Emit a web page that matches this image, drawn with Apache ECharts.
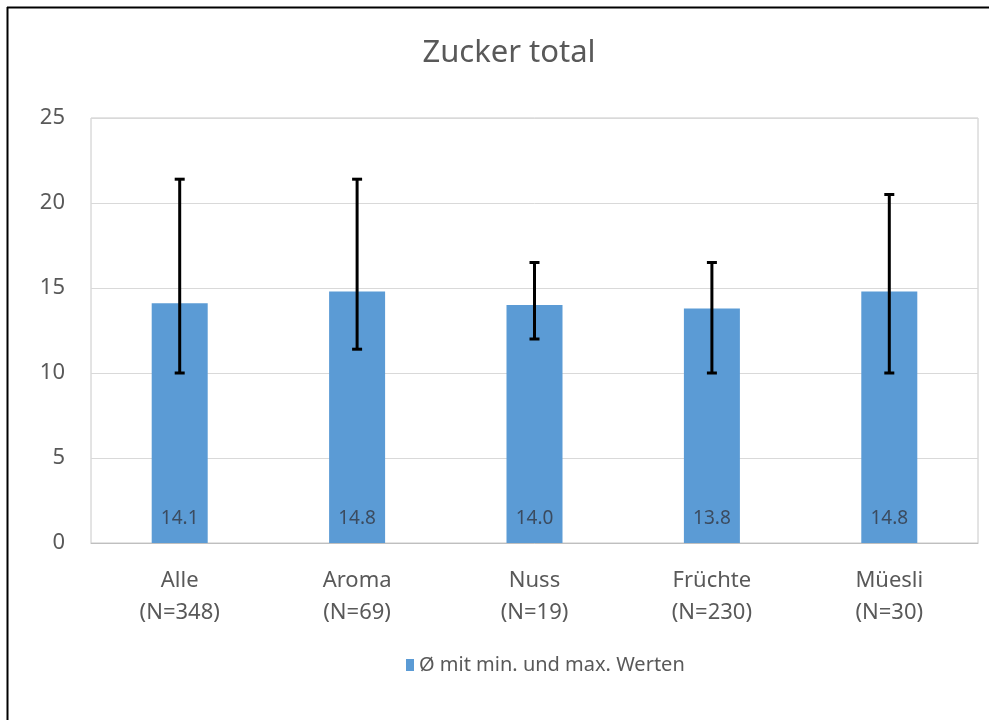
<!DOCTYPE html>
<html>
<head>
<meta charset="utf-8">
<script src="https://cdn.jsdelivr.net/npm/echarts@6/dist/echarts.min.js"></script>
<style>
html,body{margin:0;padding:0;background:#fff;}
#chart{width:989px;height:720px;}
</style>
</head>
<body>
<div id="chart"></div>
<script>
const categories = ['Alle\n(N=348)', 'Aroma\n(N=69)', 'Nuss\n(N=19)', 'Früchte\n(N=230)', 'Müesli\n(N=30)'];
const meanValues = [14.1, 14.8, 14.0, 13.8, 14.8];
const minValues = [10.0, 11.4, 12.0, 10.0, 10.0];
const maxValues = [21.4, 21.4, 16.5, 16.5, 20.5];
const yTicks = [0, 5, 10, 15, 20, 25];
const titleText = 'Zucker total';
const legendName = 'Ø mit min. und max. Werten';

const FONT = '"Noto Sans", sans-serif';
const chart = echarts.init(document.getElementById('chart'));

const errData = categories.map((c, i) => [i, minValues[i], maxValues[i]]);

chart.setOption({
  animation: false,
  backgroundColor: '#fff',
  title: {
    text: titleText,
    left: 504, top: 33, textAlign: 'center',
    textStyle: { fontFamily: FONT, fontSize: 31, fontWeight: 'normal', color: '#595959' }
  },
  legend: {
    data: [legendName],
    left: 401, top: 650,
    itemWidth: 8, itemHeight: 12, itemGap: 8,
    icon: 'rect',
    textStyle: { fontFamily: FONT, fontSize: 20, color: '#595959' }
  },
  grid: {
    left: 91, right: 11, top: 118, bottom: 177,
    show: true, borderColor: '#c8c8c8', borderWidth: 1
  },
  xAxis: {
    type: 'category',
    data: categories,
    axisTick: { show: false },
    axisLine: { lineStyle: { color: '#bfbfbf', width: 1 } },
    axisLabel: { fontFamily: FONT, fontSize: 22, color: '#595959', lineHeight: 32, margin: 22 }
  },
  yAxis: {
    type: 'value',
    min: yTicks[0], max: yTicks[yTicks.length - 1], interval: 5,
    axisLine: { show: false },
    axisTick: { show: false },
    splitLine: { lineStyle: { color: '#d9d9d9', width: 1 } },
    axisLabel: { fontFamily: FONT, fontSize: 22, color: '#595959', margin: 26 }
  },
  series: [
    {
      name: legendName,
      type: 'bar',
      data: meanValues,
      barWidth: 56,
      itemStyle: { color: '#5B9BD5' },
      label: {
        show: true, position: 'insideBottom', distance: 15,
        formatter: p => p.value.toFixed(1),
        fontFamily: FONT, fontSize: 19, color: '#3b4b5f'
      }
    },
    {
      type: 'custom',
      name: 'err',
      data: errData,
      z: 10,
      renderItem: function (params, api) {
        const x = api.value(0);
        const lo = api.coord([x, api.value(1)]);
        const hi = api.coord([x, api.value(2)]);
        const cap = 5;
        const st = { stroke: '#000', lineWidth: 3 };
        return {
          type: 'group',
          children: [
            { type: 'line', shape: { x1: lo[0], y1: lo[1], x2: hi[0], y2: hi[1] }, style: st },
            { type: 'line', shape: { x1: lo[0] - cap, y1: lo[1], x2: lo[0] + cap, y2: lo[1] }, style: st },
            { type: 'line', shape: { x1: hi[0] - cap, y1: hi[1], x2: hi[0] + cap, y2: hi[1] }, style: st }
          ]
        };
      }
    }
  ],
  graphic: [
    { type: 'line', shape: { x1: 7.5, y1: 7, x2: 7.5, y2: 720 }, style: { stroke: '#000', lineWidth: 2 } },
    { type: 'line', shape: { x1: 7, y1: 7.5, x2: 989, y2: 7.5 }, style: { stroke: '#000', lineWidth: 2 } }
  ]
});
</script>
</body>
</html>
